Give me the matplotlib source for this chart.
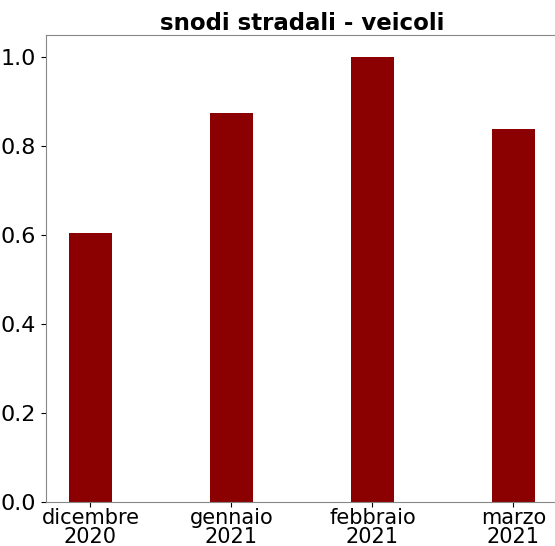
import matplotlib
matplotlib.use("Agg")
import matplotlib.pyplot as plt

categories = ["dicembre\n2020", "gennaio\n2021", "febbraio\n2021", "marzo\n2021"]
values = [0.605, 0.875, 1.0, 0.84]
title = "snodi stradali - veicoli"

fig = plt.figure(figsize=(5.55, 5.46), dpi=100)
ax = fig.add_axes([0.083, 0.0806, 0.922, 0.855])
x = list(range(len(categories)))
ax.bar(x, values, width=0.3, color="#8B0000")
ax.set_xticks(x)
ax.set_xticklabels(categories, fontsize=15, linespacing=0.95)
ax.tick_params(axis="x", pad=1)
ax.tick_params(axis="y", labelsize=16)
ax.set_yticks([0.0, 0.2, 0.4, 0.6, 0.8, 1.0])
ax.set_title(title, fontsize=16.5, fontweight="bold", pad=4)
for s in ax.spines.values():
    s.set_color("#888888")
fig.savefig("out.png", dpi=100)
